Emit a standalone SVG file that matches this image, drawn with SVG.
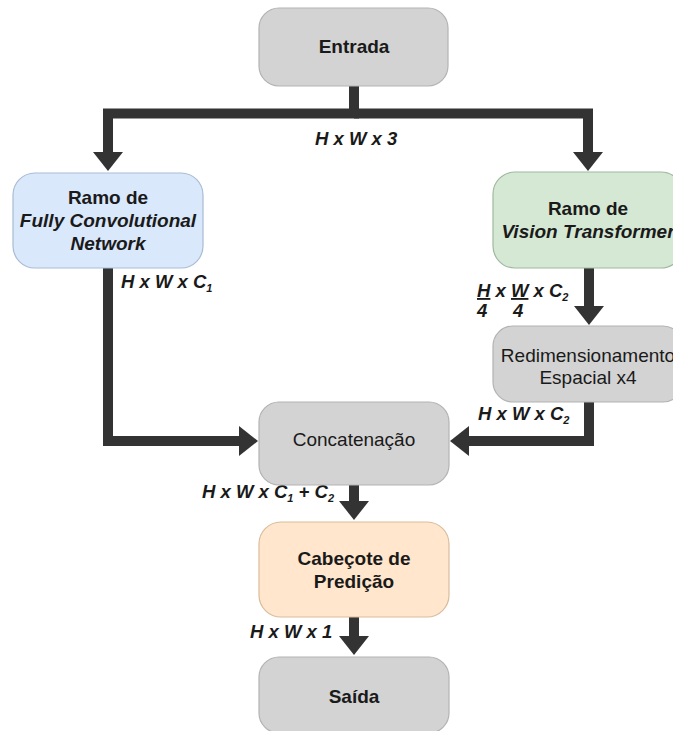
<svg xmlns="http://www.w3.org/2000/svg" width="673" height="731" viewBox="0 0 673 731">
<defs>
<marker id="arr" markerUnits="userSpaceOnUse" markerWidth="20" markerHeight="32" viewBox="0 -16 20 32" refX="0" refY="0" orient="auto">
<path d="M0,-15 L19,0 L0,15 Z" fill="#333"/>
</marker>
</defs>
<style>
.conn{fill:none;stroke:#333;stroke-width:10;stroke-linejoin:miter}
.arrow{marker-end:url(#arr)}
.gray{fill:#d3d3d3;stroke:#b3b3b3;stroke-width:1.2}
.blue{fill:#dae8fc;stroke:#a9bbd3;stroke-width:1.2}
.green{fill:#d5e8d4;stroke:#a0b89f;stroke-width:1.2}
.peach{fill:#ffe6cc;stroke:#d9bc9c;stroke-width:1.2}
text{font-family:"Liberation Sans",Arial,sans-serif;font-size:19px;fill:#1a1a1a;text-anchor:middle}
.b{font-weight:bold}
.bi{font-weight:bold;font-style:italic}
.lbl{font-weight:bold;font-style:italic;text-anchor:start;font-size:18.5px}
.sub{font-size:11px}
</style>
<g id="connectors">
<path class="conn" d="M354,86 V113.5 H108 V152"/>
<path class="conn arrow" d="M108,140 V152"/>
<path class="conn" d="M354,113.5 H588 V152"/>
<path class="conn arrow" d="M588,140 V152"/>
<path class="conn" d="M108,268 V441 H239"/>
<path class="conn arrow" d="M230,441 H239"/>
<path class="conn" d="M589,268 V306"/>
<path class="conn arrow" d="M589,296 V306"/>
<path class="conn" d="M589,402 V441 H469"/>
<path class="conn arrow" d="M478,441 H469"/>
<path class="conn" d="M354,485 V501"/>
<path class="conn arrow" d="M354,495 V501"/>
<path class="conn" d="M354,617 V636"/>
<path class="conn arrow" d="M354,630 V636"/>
</g>
<g id="labels">
<text class="lbl" x="315" y="145">H x W x 3</text>
<text class="lbl" x="121" y="288">H x W x C<tspan class="sub" dy="4">1</tspan></text>
<text class="lbl" x="477" y="297"><tspan text-decoration="underline">H</tspan> x <tspan text-decoration="underline">W</tspan> x C<tspan class="sub" dy="4">2</tspan></text>
<text class="lbl" x="477" y="317">4</text>
<text class="lbl" x="513" y="317">4</text>
<text class="lbl" x="478" y="420">H x W x C<tspan class="sub" dy="4">2</tspan></text>
<text class="lbl" x="202" y="498">H x W x C<tspan class="sub" dy="4">1</tspan><tspan dy="-4"> + C</tspan><tspan class="sub" dy="4">2</tspan></text>
<text class="lbl" x="250" y="638">H x W x 1</text>
</g>
<g id="entrada">
<rect class="gray" x="259" y="8" width="189" height="78" rx="20"/>
<text class="b" x="354" y="53">Entrada</text>
</g>
<g id="fcn">
<rect class="blue" x="13" y="173" width="190" height="95" rx="22"/>
<text class="b" x="108" y="204">Ramo de</text>
<text class="bi" x="108" y="227">Fully Convolutional</text>
<text class="bi" x="108" y="250">Network</text>
</g>
<g id="vit">
<rect class="green" x="493" y="172" width="190" height="96" rx="22"/>
<text class="b" x="588" y="215">Ramo de</text>
<text class="bi" x="588" y="238">Vision Transformer</text>
</g>
<g id="redim">
<rect class="gray" x="493" y="326" width="190" height="76" rx="20"/>
<text x="588" y="362">Redimensionamento</text>
<text x="588" y="384">Espacial x4</text>
</g>
<g id="concat">
<rect class="gray" x="259" y="402" width="190" height="83" rx="20"/>
<text x="354" y="446">Concatenação</text>
</g>
<g id="cabecote">
<rect class="peach" x="259" y="522" width="190" height="95" rx="22"/>
<text class="b" x="354" y="565">Cabeçote de</text>
<text class="b" x="354" y="588">Predição</text>
</g>
<g id="saida">
<rect class="gray" x="259" y="657" width="190" height="76" rx="20"/>
<text class="b" x="354" y="703">Saída</text>
</g>
</svg>
